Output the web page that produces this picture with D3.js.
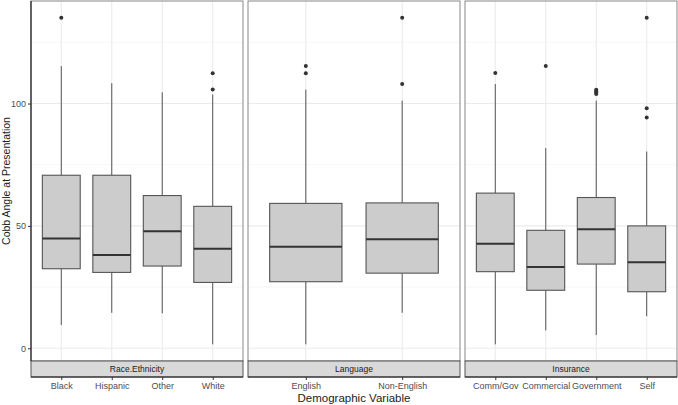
<!DOCTYPE html>
<html>
<head>
<meta charset="utf-8">
<script src="https://cdn.jsdelivr.net/npm/d3@7"></script>
<style>
  body { margin: 0; background: #fff; }
  svg { font-family: "Liberation Sans", Arial, sans-serif; }
</style>
</head>
<body>
<div id="chart"></div>
<script>
// facets and their categories
const facets = ['Race.Ethnicity', 'Language', 'Insurance']
const raceCats = ['Black', 'Hispanic', 'Other', 'White']
const langCats = ['English', 'Non-English']
const insCats = ['Comm/Gov', 'Commercial', 'Government', 'Self']

// box stats: [lowerWhisker, q1, median, q3, upperWhisker]
const raceStats = [
    [9.5, 32.5, 44.9, 70.7, 115.3],
    [14.5, 31.0, 38.1, 70.7, 108.3],
    [14.3, 33.6, 47.8, 62.4, 104.6],
    [1.6, 26.9, 40.7, 58.0, 103.7],
]
const langStats = [
    [1.6, 27.2, 41.5, 59.2, 105.7],
    [14.5, 30.7, 44.5, 59.4, 101.2],
]
const insStats = [
    [1.6, 31.3, 42.7, 63.4, 108.0],
    [7.3, 23.7, 33.2, 48.2, 81.8],
    [5.4, 34.4, 48.6, 61.6, 101.2],
    [13.1, 23.1, 35.2, 50.0, 80.4],
]

// outliers
const raceOut = [[135.1], [], [], [112.4, 105.7]]
const langOut = [[115.3, 112.4], [135.1, 108.0]]
const insOut = [[112.5], [115.3], [105.6, 105.0, 104.4, 103.9], [135.1, 98.1, 94.3]]

const yTicks = [0, 50, 100]
const yMinor = [25, 75, 125]

const panelData = [
    { name: facets[0], cats: raceCats, stats: raceStats, out: raceOut },
    { name: facets[1], cats: langCats, stats: langStats, out: langOut },
    { name: facets[2], cats: insCats, stats: insStats, out: insOut },
]

let dimensions = {
    width: 678,
    height: 405,
    panelTop: 1,
    panelBottom: 361,
    stripBottom: 377,
    panels: [[31, 243], [248, 460], [465, 677]],
}

const svg = d3.select('#chart')
    .append('svg')
        .attr('width', dimensions.width)
        .attr('height', dimensions.height)

const yScale = d3.scaleLinear()
    .domain([-5.2, 141.9])
    .range([dimensions.panelBottom, dimensions.panelTop])

panelData.forEach((p, i) => {
    const [x0, x1] = dimensions.panels[i]
    const xScale = d3.scalePoint()
        .domain(p.cats)
        .range([x0, x1])
        .padding(0.6)
    const boxW = xScale.step() * 0.75

    const g = svg.append('g')

    // background grid
    yMinor.forEach(v => {
        g.append('line')
            .attr('x1', x0).attr('x2', x1)
            .attr('y1', yScale(v)).attr('y2', yScale(v))
            .attr('stroke', '#f2f2f2').attr('stroke-width', 0.6)
    })
    yTicks.forEach(v => {
        g.append('line')
            .attr('x1', x0).attr('x2', x1)
            .attr('y1', yScale(v)).attr('y2', yScale(v))
            .attr('stroke', '#ebebeb').attr('stroke-width', 1.1)
    })
    p.cats.forEach(c => {
        g.append('line')
            .attr('x1', xScale(c)).attr('x2', xScale(c))
            .attr('y1', dimensions.panelTop).attr('y2', dimensions.panelBottom)
            .attr('stroke', '#ebebeb').attr('stroke-width', 1.1)
    })

    // boxes
    p.cats.forEach((c, j) => {
        const [lo, q1, med, q3, hi] = p.stats[j]
        const cx = xScale(c)
        g.append('line')
            .attr('x1', cx).attr('x2', cx)
            .attr('y1', yScale(q3)).attr('y2', yScale(hi))
            .attr('stroke', '#555').attr('stroke-width', 1)
        g.append('line')
            .attr('x1', cx).attr('x2', cx)
            .attr('y1', yScale(q1)).attr('y2', yScale(lo))
            .attr('stroke', '#555').attr('stroke-width', 1)
        g.append('rect')
            .attr('x', cx - boxW / 2)
            .attr('y', yScale(q3))
            .attr('width', boxW)
            .attr('height', yScale(q1) - yScale(q3))
            .attr('fill', '#cccccc')
            .attr('stroke', '#555').attr('stroke-width', 1.1)
        g.append('line')
            .attr('x1', cx - boxW / 2).attr('x2', cx + boxW / 2)
            .attr('y1', yScale(med)).attr('y2', yScale(med))
            .attr('stroke', '#333').attr('stroke-width', 2)
        p.out[j].forEach(v => {
            g.append('circle')
                .attr('cx', cx).attr('cy', yScale(v))
                .attr('r', 2)
                .attr('fill', '#333')
        })
    })

    // panel border
    g.append('rect')
        .attr('x', x0).attr('y', dimensions.panelTop)
        .attr('width', x1 - x0)
        .attr('height', dimensions.panelBottom - dimensions.panelTop)
        .attr('fill', 'none')
        .attr('stroke', '#888').attr('stroke-width', 1)

    // strip
    g.append('rect')
        .attr('x', x0).attr('y', dimensions.panelBottom)
        .attr('width', x1 - x0)
        .attr('height', dimensions.stripBottom - dimensions.panelBottom)
        .attr('fill', '#d9d9d9')
        .attr('stroke', '#555').attr('stroke-width', 1)
    g.append('text')
        .attr('x', (x0 + x1) / 2)
        .attr('y', (dimensions.panelBottom + dimensions.stripBottom) / 2)
        .attr('dy', '0.35em')
        .attr('text-anchor', 'middle')
        .attr('font-size', 8.5)
        .attr('fill', '#1a1a1a')
        .text(p.name)

    // x axis under the strip
    const xAxis = d3.axisBottom(xScale).tickSize(3).tickPadding(3)
    const xAxisGroup = g.append('g')
        .attr('transform', `translate(0, ${dimensions.stripBottom})`)
        .call(xAxis)
    xAxisGroup.select('.domain')
        .attr('d', `M${x0},0H${x1}`)
        .attr('stroke', '#222').attr('stroke-width', 1.2)
    xAxisGroup.selectAll('.tick line').attr('stroke', '#333')
    xAxisGroup.selectAll('.tick text')
        .attr('font-size', 9)
        .attr('font-family', '"Liberation Sans", Arial, sans-serif')
        .attr('fill', '#4d4d4d')

    // y axis on the first panel only
    if (i === 0) {
        const yAxis = d3.axisLeft(yScale).tickValues(yTicks).tickSize(3).tickPadding(2)
        const yAxisGroup = g.append('g')
            .attr('transform', `translate(${x0}, 0)`)
            .call(yAxis)
        yAxisGroup.select('.domain')
            .attr('d', `M0,${dimensions.panelTop}V${dimensions.panelBottom}`)
            .attr('stroke', '#222').attr('stroke-width', 1.2)
        yAxisGroup.selectAll('.tick line').attr('stroke', '#333')
        yAxisGroup.selectAll('.tick text')
            .attr('font-size', 9)
            .attr('font-family', '"Liberation Sans", Arial, sans-serif')
            .attr('fill', '#4d4d4d')
    }
})

// axis titles
svg.append('text')
    .attr('x', (dimensions.panels[0][0] + dimensions.panels[2][1]) / 2)
    .attr('y', 402)
    .attr('text-anchor', 'middle')
    .attr('font-size', 11.5)
    .attr('fill', '#222')
    .text('Demographic Variable')

svg.append('text')
    .attr('transform', `translate(10, ${(dimensions.panelTop + dimensions.panelBottom) / 2}) rotate(-90)`)
    .attr('text-anchor', 'middle')
    .attr('font-size', 10.5)
    .attr('fill', '#222')
    .text('Cobb Angle at Presentation')
</script>
</body>
</html>
